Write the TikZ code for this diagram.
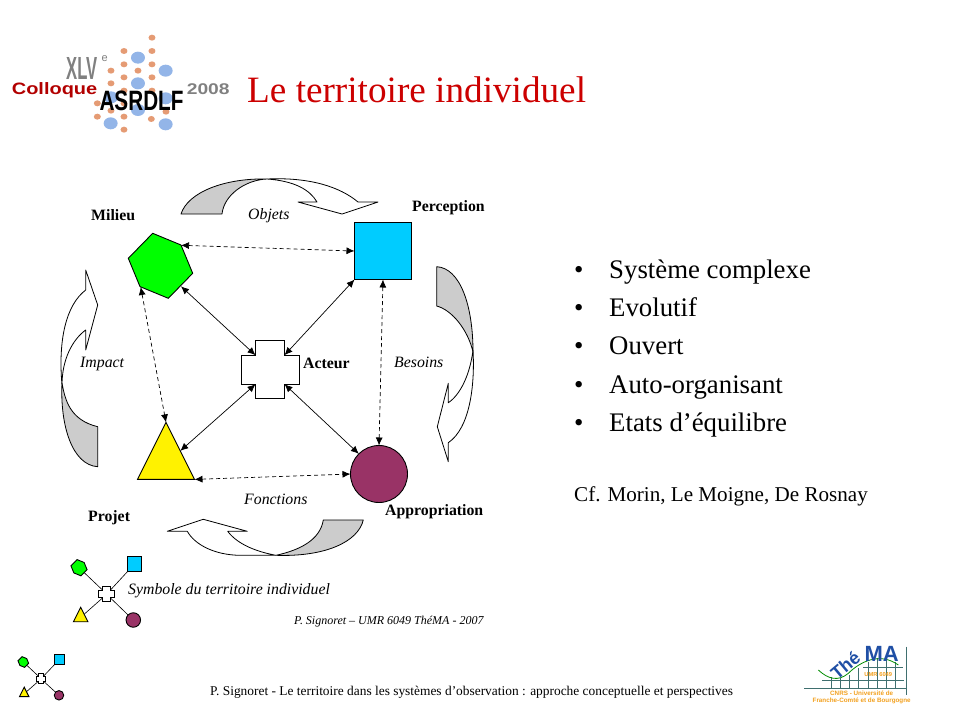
\documentclass[tikz,border=0pt]{standalone}
\usepackage{fontspec}
\setmainfont{Liberation Serif}
\newfontfamily\logofont{Liberation Sans}
\usetikzlibrary{arrows.meta,shapes.geometric}
\definecolor{plum}{HTML}{993366}
\definecolor{skyfill}{HTML}{00CCFF}
\definecolor{bandgray}{HTML}{CCCCCC}
\definecolor{titlered}{HTML}{CC0000}
\definecolor{dotorange}{HTML}{E59B74}
\definecolor{dotblue}{HTML}{93B5E8}
\definecolor{gridteal}{HTML}{3F6F6F}
\definecolor{logoorange}{HTML}{F2A01E}
\definecolor{logoblue}{HTML}{1F4FA5}
\tikzset{
  shapeline/.style={draw=black, line width=0.9pt, inner sep=0pt, outer sep=0pt},
  perceptshape/.style={shapeline, rectangle, minimum size=#1, fill=skyfill},
  projetshape/.style={shapeline, isosceles triangle, isosceles triangle stretches, shape border rotate=90, minimum width=#1, minimum height=#1, fill=yellow},
  appropshape/.style={shapeline, circle, minimum size=#1, fill=plum},
  acteurshape/.style={inner sep=0pt, outer sep=0pt, minimum size=#1},
  milieushape/.style={circle, inner sep=0pt, outer sep=0pt, minimum size=#1},
  band/.style={draw=black, line width=0.8pt, line join=round},
  plainlink/.style={{Latex[length=8pt,width=7pt]}-{Latex[length=8pt,width=7pt]}, line width=0.7pt},
  dashlink/.style={plainlink, dash pattern=on 4pt off 3pt},
  tiny link/.style={line width=0.6pt},
  name lab/.style={anchor=base west, inner sep=0pt, font=\fontsize{15.8}{18}\selectfont\bfseries},
  flow lab/.style={anchor=base west, inner sep=0pt, font=\fontsize{15.8}{18}\selectfont\itshape},
  list lab/.style={anchor=base west, inner sep=0pt, font=\fontsize{26.8}{30}\selectfont},
}
\newcommand{\crossmark}[3]{%
  \node[acteurshape=2*#3] (#1) at (#2) {};
  \draw[shapeline, fill=white, shift={(#2)}]
    (-#3,-#3*2) -- (#3,-#3*2) -- (#3,-#3) -- (#3*2,-#3) -- (#3*2,#3) -- (#3,#3)
    -- (#3,#3*2) -- (-#3,#3*2) -- (-#3,#3) -- (-#3*2,#3) -- (-#3*2,-#3) -- (-#3,-#3) -- cycle;
}
\newcommand{\hexmark}[3]{%
  \draw[shapeline, fill=green, shift={(#2)}]
    (#3*-7.8,#3*-32.5) -- (#3*20.5,#3*-20.8) -- (#3*32.2,#3*7.5)
    -- (#3*7.8,#3*32.5) -- (#3*-20.5,#3*20.8) -- (#3*-32.2,#3*-7.5) -- cycle;
  \node[milieushape=#3*58] (#1) at (#2) {};
}
\begin{document}
\begin{tikzpicture}[x=1pt, y=-1pt]
  \useasboundingbox (0,0) rectangle (960,720);

  % Curved bands
  \draw[band, fill=white] (267,179) .. controls (310,177) and (340,187) .. (358,202) -- (378,202) -- (342,214) -- (298,202) -- (317,202) .. controls (310,190) and (295,181) .. (267,179);
  \draw[band, fill=bandgray] (181,214) .. controls (188,192) and (225,178) .. (267,179) .. controls (245,180) and (224,195) .. (222,214) -- cycle;
  \draw[band, fill=white] (473,350) .. controls (475,385) and (470,428) .. (448.3,442.7) -- (448.3,461.7) -- (437.3,426.7) -- (448.3,383.3) -- (448.3,402.7) .. controls (460,395) and (470,375) .. (473,350);
  \draw[band, fill=bandgray] (436.7,266.7) .. controls (460,268) and (473,305) .. (473,352) .. controls (468,330) and (452,310) .. (436.7,306) -- cycle;
  \draw[band, fill=white] (62,385) .. controls (58,340) and (66,305) .. (85.7,290) -- (85.7,270) -- (97.7,305) -- (85.7,350) -- (85.7,330) .. controls (72,340) and (62,360) .. (62,385);
  \draw[band, fill=bandgray] (62,383) .. controls (65,400) and (70,420) .. (97.7,426.7) -- (97.7,466.7) .. controls (72,465) and (60,425) .. (62,383) -- cycle;
  \draw[band, fill=white] (276,555.3) -- (240,555.3) .. controls (215,555) and (195,545) .. (187.3,531.3) -- (167.3,531.3) -- (203.3,519.3) -- (247.3,531.3) -- (227.7,531.3) .. controls (238,545) and (258,552) .. (276,555.3);
  \draw[band, fill=bandgray] (276,555.3) .. controls (300,550) and (320,540) .. (323.3,520) -- (363.3,520) .. controls (358,542) and (325,557) .. (276,555.3) -- cycle;

  % Main shapes
  \hexmark{milieu}{160.5,265.8}{1}
  \node[perceptshape=57] (percept) at (383,251) {};
  \node[projetshape=57] (projet) at (166,461.8) {};
  \node[appropshape=57] (approp) at (379,474) {};
  \crossmark{acteur}{270,369.7}{14.5}

  % Links
  \draw[dashlink] (milieu.45) -- (percept.west);
  \draw[dashlink] (milieu.-133) -- (projet.apex);
  \draw[dashlink] (percept.south) -- (approp.north);
  \draw[dashlink] (projet.right corner) -- (approp.west);
  \draw[plainlink] (milieu.-45) -- (acteur.north west);
  \draw[plainlink] (percept.south west) -- (acteur.north east);
  \draw[plainlink] (projet.right side) -- (acteur.south west);
  \draw[plainlink] (approp.135) -- (acteur.south east);

  % Labels
  \node[name lab] (lblMilieu) at (91,220.7) {Milieu};
  \node[name lab] (lblPercept) at (412,211.7) {Perception};
  \node[name lab] (lblActeur) at (303,368.5) {Acteur};
  \node[name lab] (lblProjet) at (88,521.7) {Projet};
  \node[name lab] (lblApprop) at (385,515.7) {Appropriation};
  \node[flow lab] (lblObjets) at (248,219.3) {Objets};
  \node[flow lab] (lblImpact) at (80,367.5) {Impact};
  \node[flow lab] (lblBesoins) at (394,367.7) {Besoins};
  \node[flow lab] (lblFonctions) at (244,504.3) {Fonctions};
  \node[flow lab] (lblSymbole) at (128,594.3) {Symbole du territoire individuel};
  \node[anchor=base west, inner sep=0pt, font=\fontsize{12}{14}\selectfont\itshape] (lblAuteur) at (294,624) {P. Signoret -- UMR 6049 ThéMA - 2007};

  % Symbol, large
  \hexmark{symMilieu}{79,567.7}{0.25}
  \node[perceptshape=14.5] (symPercept) at (134.5,564) {};
  \node[projetshape=14.5] (symProjet) at (80.7,617.3) {};
  \node[appropshape=14.5] (symApprop) at (133.3,620) {};
  \crossmark{symActeur}{106.5,594}{3.85}
  \draw[tiny link] (symMilieu) -- (symActeur.north west);
  \draw[tiny link] (symPercept) -- (symActeur.north east);
  \draw[tiny link] (symProjet) -- (symActeur.south west);
  \draw[tiny link] (symApprop) -- (symActeur.south east);

  % Symbol, small
  \hexmark{minMilieu}{23.3,662}{0.165}
  \node[perceptshape=10] (minPercept) at (59.5,659.3) {};
  \node[projetshape=9.5] (minProjet) at (24.2,693.7) {};
  \node[appropshape=9.5] (minApprop) at (59,695.3) {};
  \crossmark{minActeur}{41,678.7}{2.4}
  \draw[tiny link] (minMilieu) -- (minActeur.north west);
  \draw[tiny link] (minPercept) -- (minActeur.north east);
  \draw[tiny link] (minProjet) -- (minActeur.south west);
  \draw[tiny link] (minApprop) -- (minActeur.south east);

  % Title and list
  \node[anchor=base west, inner sep=0pt, text=titlered, font=\fontsize{37.2}{40}\selectfont] (titre) at (247,102) {Le territoire individuel};
  \node[list lab] (puce1) at (574,278) {•}; \node[list lab] (item1) at (609,278) {Système complexe};
  \node[list lab] (puce2) at (574,316) {•}; \node[list lab] (item2) at (609,316) {Evolutif};
  \node[list lab] (puce3) at (574,354) {•}; \node[list lab] (item3) at (609,354) {Ouvert};
  \node[list lab] (puce4) at (574,393) {•}; \node[list lab] (item4) at (609,393) {Auto-organisant};
  \node[list lab] (puce5) at (574,431) {•}; \node[list lab] (item5) at (609,431) {Etats d’équilibre};
  \node[anchor=base west, inner sep=0pt, font=\fontsize{21.1}{24}\selectfont] (renvoi) at (574,501) {Cf. Morin, Le Moigne, De Rosnay};
  \node[anchor=base west, inner sep=0pt, font=\fontsize{13.4}{15}\selectfont] (pied) at (210,695) {P. Signoret - Le territoire dans les systèmes d’observation : approche conceptuelle et perspectives};

  % Colloque logo
  \begin{scope}[shift={(0,20)}, x=0.3333pt, y=-0.3333pt]
    \foreach \dotx/\doty in {456/53,372/93,456/93,372/133,456/133,333/152,414/152,372/172,456/172,333/190,372/212,456/212,292/250,372/250,333/272,498/275,292/290,372/290,454/297,372/329}
      \fill[dotorange] (\dotx,\doty) ellipse [x radius=3.5pt, y radius=3pt];
    \foreach \dotx/\doty in {414/113,497/152,414/190,333/232,497/235,414/270,332/310,497/313}
      \fill[dotblue] (\dotx,\doty) ellipse [x radius=7pt, y radius=6pt];
    \node[anchor=base west, inner sep=0pt, text=gray, font=\logofont\bfseries\fontsize{32}{32}\selectfont] (logoXLV) at (198,178) {\scalebox{0.52}[1]{XLV}};
    \node[anchor=base west, inner sep=0pt, text=gray, font=\logofont\fontsize{11}{11}\selectfont] (logoE) at (304,125) {e};
    \node[anchor=base west, inner sep=0pt, text=red!70!black, font=\logofont\bfseries\fontsize{16.5}{17}\selectfont] (logoColloque) at (35,225) {\scalebox{1.21}[1]{Colloque}};
    \node[anchor=base west, inner sep=0pt, font=\logofont\bfseries\fontsize{28}{28}\selectfont] (logoASRDLF) at (298,272) {\scalebox{0.74}[1]{ASRDLF}};
    \node[anchor=base west, inner sep=0pt, text=gray, font=\logofont\bfseries\fontsize{15.5}{16}\selectfont] (logoAn) at (560,225) {\scalebox{1.24}[1]{2008}};
  \end{scope}

  % ThéMA logo
  \begin{scope}[shift={(800,640)}, x=0.3333pt, y=-0.3333pt]
    \draw[gridteal, line width=0.9pt] (320,20) -- (320,165);
    \draw[gridteal, line width=0.9pt] (12,145) -- (318,145);
    \draw[gridteal, line width=0.7pt] (67,122) -- (312,122);
    \draw[gridteal, line width=0.7pt] (190,83) -- (310,83);
    \foreach \gridx/\gridtop in {95/112,122/115,148/105,175/85,205/65,232/55,258/55,285/65}
      \draw[gridteal, line width=0.7pt] (\gridx,\gridtop) -- (\gridx,145);
    \draw[green!55!black, line width=0.8pt] (55,90) .. controls (85,118) and (115,125) .. (145,100) .. controls (180,65) and (240,35) .. (295,75);
    \node[inner sep=0pt, text=logoblue, rotate=40, font=\logofont\bfseries\fontsize{18}{18}\selectfont] (logoThe) at (136,75) {Thé};
    \node[inner sep=0pt, text=logoblue, font=\logofont\bfseries\fontsize{22}{22}\selectfont] (logoMA) at (245,42) {MA};
    \node[inner sep=0pt, text=logoorange, font=\logofont\bfseries\fontsize{5.8}{6}\selectfont] (logoUMR) at (235,103) {UMR 6049};
    \node[inner sep=0pt, text=logoorange, font=\logofont\bfseries\fontsize{6.3}{7}\selectfont] (logoCNRS) at (185,160) {CNRS - Université de};
    \node[inner sep=0pt, text=logoorange, font=\logofont\bfseries\fontsize{6.3}{7}\selectfont] (logoFC) at (185,183) {Franche-Comté et de Bourgogne};
  \end{scope}
\end{tikzpicture}
\end{document}
